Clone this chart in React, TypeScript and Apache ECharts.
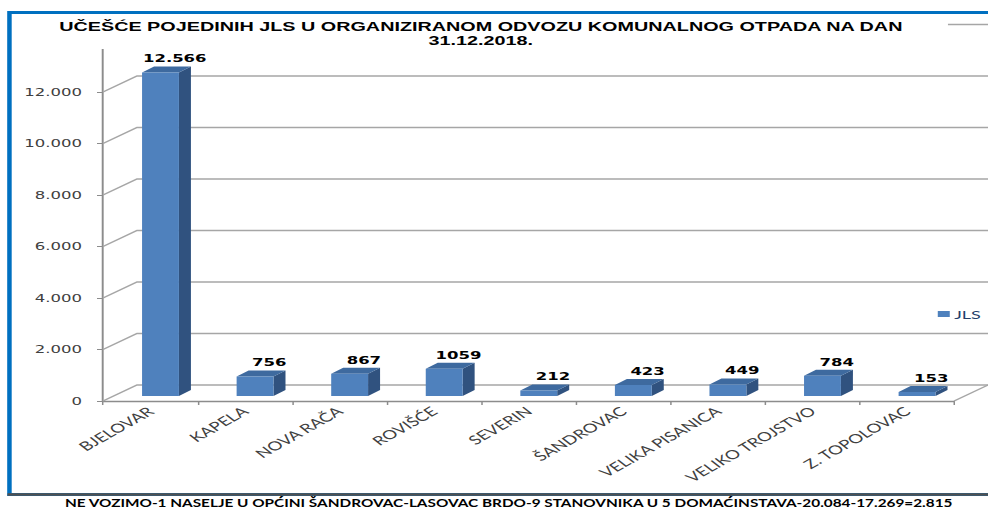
import React, { useEffect, useRef } from 'react';
import * as echarts from 'echarts';

// ---- data ----
const categories = [
  'BJELOVAR',
  'KAPELA',
  'NOVA RAČA',
  'ROVIŠĆE',
  'SEVERIN',
  'ŠANDROVAC',
  'VELIKA PISANICA',
  'VELIKO TROJSTVO',
  'Z. TOPOLOVAC',
];
const values = [12566, 756, 867, 1059, 212, 423, 449, 784, 153];
const yTicks = [0, 2000, 4000, 6000, 8000, 10000, 12000, 14000];
const seriesName = 'JLS';
const titleText =
  'UČEŠĆE POJEDINIH JLS U ORGANIZIRANOM ODVOZU KOMUNALNOG OTPADA NA DAN\n31.12.2018.';
const noteText =
  'NE VOZIMO-1 NASELJE U OPĆINI ŠANDROVAC-LASOVAC BRDO-9 STANOVNIKA U 5 DOMAĆINSTAVA-20.084-17.269=2.815';

// ---- layout (the reference picture is stretched horizontally) ----
const PAGE_W = 988;
const PAGE_H = 509;
const W = 659;
const STRETCH = PAGE_W / W;

const WALL_DX = 22.7;
const WALL_DY = -16;
const BAR_DX = 8;
const BAR_DY = -6;
const BAR_BASE_DY = -5;

const FRONT = '#4F81BD';
const SIDE = '#30527F';
const TOP = '#3E6A9F';
const GRID_GRAY = '#A6A6A6';
const AXIS_GRAY = '#8C8C8C';

const dotThousands = (v: number) => String(v).replace(/\B(?=(\d{3})+(?!\d))/g, '.');
const valueLabel = (v: number) => (v >= 10000 ? dotThousands(v) : String(v));

const option: any = {
  animation: false,
  title: {
    text: titleText,
    left: 290.7,
    top: 15,
    textAlign: 'center',
    padding: [5, 30, 1, 30],
    backgroundColor: '#fff',
    textStyle: {
      fontFamily: 'Liberation Sans',
      fontWeight: 'bold',
      fontSize: 13.2,
      lineHeight: 14,
      color: '#000',
    },
  },
  legend: {
    data: [seriesName],
    left: 625.5,
    top: 308,
    padding: 0,
    icon: 'rect',
    itemWidth: 8,
    itemHeight: 6,
    textStyle: { fontFamily: 'Lato', fontSize: 12, color: '#243F6B', padding: [0, 0, 0, -2] },
  },
  grid: { left: 68.7, right: 22.6, top: 40.5, bottom: 108 },
  xAxis: {
    type: 'category',
    data: categories,
    boundaryGap: true,
    axisLine: { lineStyle: { color: AXIS_GRAY, width: 1.3 } },
    axisTick: { show: true, length: 4, lineStyle: { color: AXIS_GRAY } },
    axisLabel: {
      interval: 0,
      rotate: 40,
      margin: 8,
      fontFamily: 'Lato',
      fontSize: 12.5,
      color: '#404040',
    },
  },
  yAxis: {
    type: 'value',
    min: 0,
    max: 14000,
    interval: 2000,
    axisLine: { show: true, lineStyle: { color: AXIS_GRAY, width: 1.3 } },
    axisTick: { show: true, length: 4, lineStyle: { color: AXIS_GRAY } },
    splitLine: { show: false },
    axisLabel: {
      margin: 14,
      fontFamily: 'DejaVu Sans',
      fontSize: 11,
      color: '#404040',
      formatter: (v: number) => (v === 14000 ? '' : dotThousands(v)),
    },
  },
  series: [
    {
      type: 'custom',
      name: 'wall',
      z: 1,
      silent: true,
      data: yTicks.map((v) => [0, v]),
      encode: { x: 0, y: 1 },
      renderItem: (params: any, api: any) => {
        const cs = params.coordSys;
        const v = api.value(1);
        const y = api.coord([0, v])[1];
        const left = cs.x;
        const right = cs.x + cs.width;
        const style = { stroke: GRID_GRAY, lineWidth: 1.3, fill: 'none' };
        const children: any[] = [
          {
            type: 'polyline',
            shape: {
              points: [
                [left, y],
                [left + WALL_DX, y + WALL_DY],
                [right + WALL_DX, y + WALL_DY],
              ],
            },
            style,
          },
        ];
        if (v === 0) {
          children.push({
            type: 'line',
            shape: { x1: right, y1: y, x2: right + WALL_DX, y2: y + WALL_DY },
            style,
          });
        }
        return { type: 'group', children };
      },
    },
    {
      type: 'custom',
      name: seriesName,
      z: 3,
      itemStyle: { color: FRONT },
      data: values.map((v, i) => [i, v]),
      encode: { x: 0, y: 1 },
      renderItem: (params: any, api: any) => {
        const i = api.value(0);
        const v = api.value(1);
        const topPt = api.coord([i, v]);
        const basePt = api.coord([i, 0]);
        const band = api.size([1, 0])[0];
        const w = band * 0.39;
        const cx = topPt[0] + band * 0.108;
        const xl = cx - w / 2;
        const xr = cx + w / 2;
        const yt = topPt[1] + BAR_BASE_DY;
        const yb = basePt[1] + BAR_BASE_DY;
        return {
          type: 'group',
          children: [
            {
              type: 'polygon',
              shape: {
                points: [
                  [xr, yt],
                  [xr + BAR_DX, yt + BAR_DY],
                  [xr + BAR_DX, yb + BAR_DY],
                  [xr, yb],
                ],
              },
              style: { fill: SIDE },
            },
            {
              type: 'polygon',
              shape: {
                points: [
                  [xl, yt],
                  [xl + BAR_DX, yt + BAR_DY],
                  [xr + BAR_DX, yt + BAR_DY],
                  [xr, yt],
                ],
              },
              style: { fill: TOP },
            },
            {
              type: 'rect',
              shape: { x: xl, y: yt, width: w, height: yb - yt },
              style: { fill: FRONT },
            },
            {
              type: 'text',
              x: cx + 9.5,
              y: yt - 14,
              style: {
                text: valueLabel(v),
                fontFamily: 'DejaVu Sans',
                fontWeight: 'bold',
                fontSize: 11,
                fill: '#000',
                align: 'center',
                verticalAlign: 'middle',
              },
            },
          ],
        };
      },
    },
  ],
  graphic: [
    {
      type: 'rect',
      shape: { x: 6.3, y: 12.5, width: W + 20, height: 482 },
      style: { stroke: '#0070C0', lineWidth: 3, fill: 'none' },
      silent: true,
    },
    {
      type: 'line',
      shape: { x1: 5, y1: 494.5, x2: W, y2: 494.5 },
      style: { stroke: '#505050', lineWidth: 2.5 },
      silent: true,
    },
    {
      type: 'text',
      x: 43.3,
      y: 508.6,
      scaleX: 0.931,
      style: {
        text: noteText,
        fontFamily: 'Lato',
        fontWeight: 'bold',
        fontSize: 11,
        fill: '#000',
        verticalAlign: 'bottom',
      },
      silent: true,
    },
  ],
};

export default function App() {
  const ref = useRef<HTMLDivElement>(null);
  useEffect(() => {
    const chart = echarts.init(ref.current as HTMLDivElement, null, { renderer: 'svg' });
    chart.setOption(option);
    return () => chart.dispose();
  }, []);
  return (
    <div
      style={{
        position: 'fixed',
        left: 0,
        top: 0,
        width: PAGE_W,
        height: PAGE_H,
        overflow: 'hidden',
        background: '#fff',
      }}
    >
      <div
        ref={ref}
        style={{
          width: W,
          height: PAGE_H,
          transform: `scaleX(${STRETCH})`,
          transformOrigin: '0 0',
        }}
      />
    </div>
  );
}
